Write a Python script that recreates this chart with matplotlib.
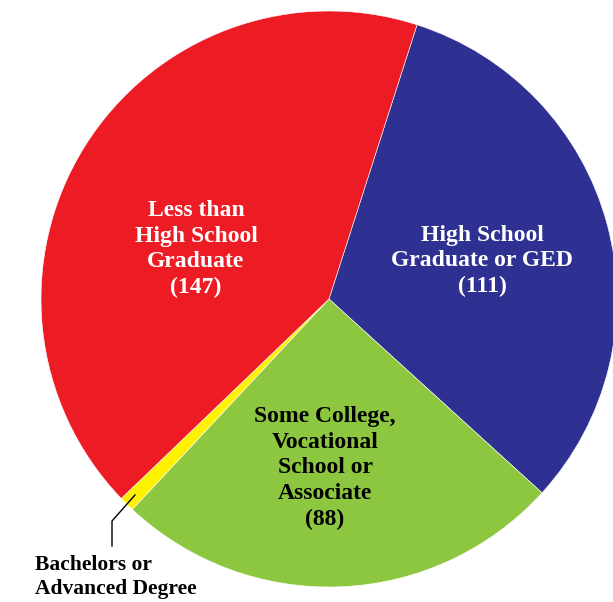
import matplotlib.pyplot as plt

labels = ['High School\nGraduate or GED\n(111)',
          'Some College,\nVocational\nSchool or\nAssociate\n(88)',
          '',
          'Less than\nHigh School\nGraduate\n(147)']
values = [111, 88, 3, 147]
colors = ['#2E3192', '#8DC63F', '#FFF200', '#ED1C24']
text_colors = ['white', 'black', 'black', 'white']
other_label = 'Bachelors or\nAdvanced Degree'

# pie geometry in pixels (center and radius)
cx, cy, r = 329, 299, 288
W, H = 613, 602


def px(x, y):
    return (x - cx) / r, (cy - y) / r


fig = plt.figure(figsize=(W / 100, H / 100), dpi=100)
ax = fig.add_axes([0, 0, 1, 1])
ax.pie(values, colors=colors, startangle=72.2, counterclock=False,
       wedgeprops=dict(edgecolor='white', linewidth=0.4))
ax.set_xlim(-cx / r, (W - cx) / r)
ax.set_ylim(-(H - cy) / r, cy / r)
ax.set_aspect('equal')
ax.axis('off')

font = dict(family='Liberation Serif', fontweight='bold', fontsize=17,
            ha='center', va='center', linespacing=1.28)

pos = [(482, 261), (325, 468), None, (196, 249)]
for lab, p, c in zip(labels, pos, text_colors):
    if p is None:
        continue
    ax.text(*px(*p), lab, color=c, **font)

# leader line for the small slice
xs, ys = zip(px(135, 495), px(112, 521), px(112, 546))
ax.plot(xs, ys, color='black', lw=1)
ax.text(*px(35, 577), other_label, color='black', family='Liberation Serif',
        fontweight='bold', fontsize=15.5, ha='left', va='center', linespacing=1.28)

fig.savefig('out.png', dpi=100)
